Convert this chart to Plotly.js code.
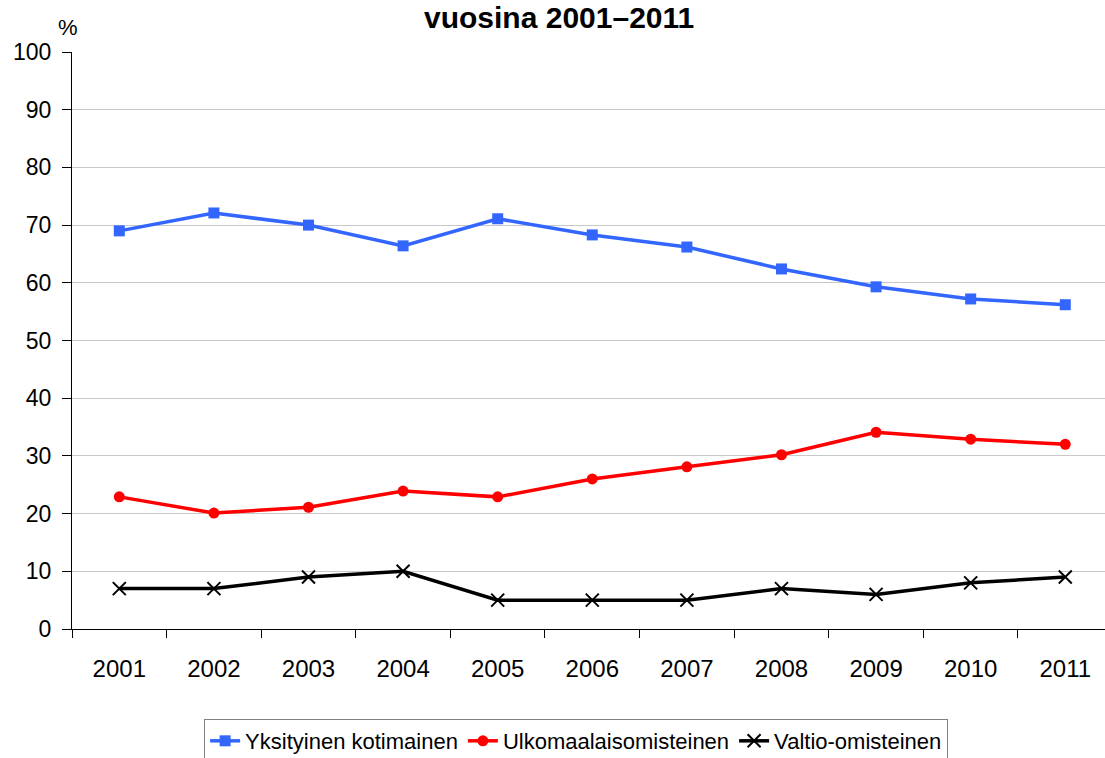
<!DOCTYPE html>
<html><head><meta charset="utf-8">
<script src="https://cdn.plot.ly/plotly-3.0.1.min.js"></script>
<style>html,body{margin:0;padding:0;background:#fff}#c{width:1105px;height:758px}</style>
</head><body><div id="c"></div>
<script>
const years = ['2001','2002','2003','2004','2005','2006','2007','2008','2009','2010','2011'];
const yksityinen = [69.0, 72.1, 70.0, 66.4, 71.1, 68.3, 66.2, 62.4, 59.3, 57.2, 56.2];
const ulkomaalais = [22.9, 20.1, 21.1, 23.9, 22.9, 26.0, 28.1, 30.2, 34.1, 32.9, 32.0];
const valtio = [7, 7, 9, 10, 5, 5, 5, 7, 6, 8, 9];
const yTicks = [0,10,20,30,40,50,60,70,80,90,100];

const traces = [
  {x: years, y: yksityinen, name: 'Yksityinen kotimainen', type: 'scatter', mode: 'lines+markers',
   line: {color: '#3366ff', width: 3.5}, marker: {symbol: 'square', size: 11, color: '#3366ff'}},
  {x: years, y: ulkomaalais, name: 'Ulkomaalaisomisteinen', type: 'scatter', mode: 'lines+markers',
   line: {color: '#ff0000', width: 3.5}, marker: {symbol: 'circle', size: 11, color: '#ff0000'}},
  {x: years, y: valtio, name: 'Valtio-omisteinen', type: 'scatter', mode: 'lines+markers',
   line: {color: '#000000', width: 3.5}, marker: {symbol: 'x-thin-open', size: 13, color: '#000', line: {color: '#000', width: 2}}}
];

const layout = {
  width: 1105, height: 758,
  margin: {l: 72, r: 0, t: 52, b: 129, autoexpand: false},
  paper_bgcolor: '#fff', plot_bgcolor: '#fff',
  font: {family: 'Liberation Sans, Arial, sans-serif', color: '#000', size: 20},
  title: {text: '<b>vuosina 2001–2011</b>', font: {size: 30, family: 'Liberation Sans, Arial, sans-serif'},
          x: 0.506, xanchor: 'center', y: 0.977, yanchor: 'middle', yref: 'container', xref: 'container'},
  showlegend: true,
  legend: {orientation: 'h', x: 0.488, xanchor: 'center', y: -0.156, yanchor: 'top',
           bordercolor: '#808080', borderwidth: 1, bgcolor: '#fff', font: {size: 22}, traceorder: 'normal'},
  xaxis: {type: 'category', range: [-0.5, 10.42], tickson: 'boundaries', ticks: 'outside', ticklen: 8,
          tickcolor: '#000', showline: true, linecolor: '#000', linewidth: 1, showgrid: false, tickangle: 0,
          ticklabelstandoff: 18, tickfont: {size: 24}, fixedrange: true, automargin: false},
  yaxis: {range: [0, 100], tickvals: yTicks, ticks: 'outside', ticklen: 9, tickcolor: '#000',
          showline: true, linecolor: '#000', linewidth: 1, showgrid: true, gridcolor: '#c8c8c8', gridwidth: 1,
          ticklabelstandoff: 6, zeroline: false, tickfont: {size: 23}, automargin: false},
  annotations: [{text: '%', xref: 'paper', yref: 'paper', x: -0.004, y: 1.042, xanchor: 'center', yanchor: 'middle',
                 showarrow: false, font: {size: 22}}]
};
Plotly.newPlot('c', traces, layout, {displayModeBar: false, staticPlot: true});
</script></body></html>
